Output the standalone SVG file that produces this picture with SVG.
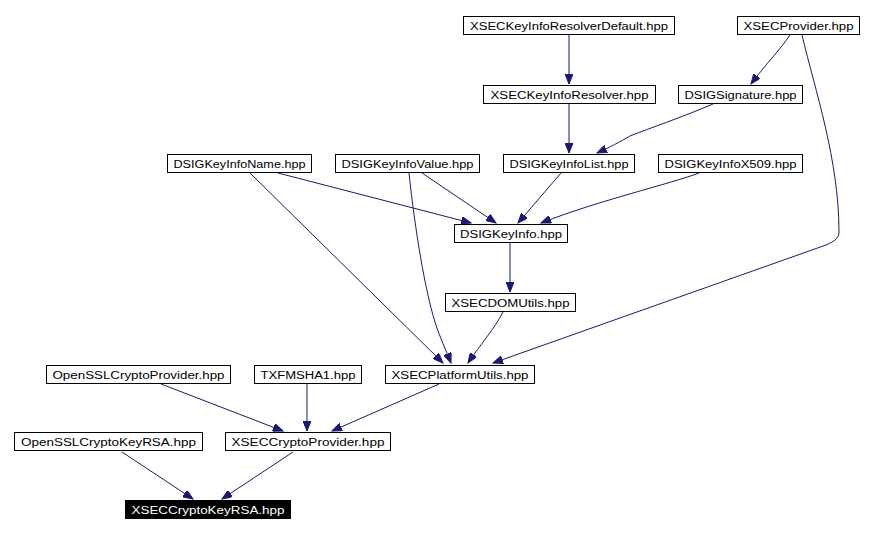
<svg xmlns="http://www.w3.org/2000/svg" width="876" height="534" viewBox="0 0 876 534">
<style>
.n rect{fill:#fff;stroke:#000;stroke-width:1}
.n text{font-family:"Liberation Sans",Arial,sans-serif;font-size:10px;fill:#000;text-anchor:middle}
.n.hl rect{fill:#000;stroke:#000}
.n.hl text{fill:#fff}
.e path{fill:none;stroke:#191970;stroke-width:1;marker-end:url(#ah)}
</style>
<defs>
<marker id="ah" markerUnits="userSpaceOnUse" markerWidth="11" markerHeight="8" refX="10" refY="4" orient="auto">
<path d="M0,0 L10,4 L0,8 z" fill="#191970" stroke="#191970" stroke-width="1"/>
</marker>
</defs>
<rect width="876" height="534" fill="#fff"/>
<g id="connectors" class="e">
<path d="M569,35 L569,84"/>
<path d="M790,35 C780,50 765,65 751,84"/>
<path d="M802,35 C815,90 839,160 839,232 C839,238 835,241 826,245 L493,363"/>
<path d="M569,104 L569,153"/>
<path d="M713,104 C680,118 650,128 630,136 C620,142 610,147 597,153"/>
<path d="M278,173 L471,223"/>
<path d="M250,173 L443,363"/>
<path d="M422,173 L496,223"/>
<path d="M409,173 C415,230 425,290 435,322 C440,338 446,350 451,363"/>
<path d="M561,173 L518,223"/>
<path d="M699,173 C670,184 600,200 541,223"/>
<path d="M510,243 L510,292"/>
<path d="M503,312 C495,328 480,345 468,363"/>
<path d="M161,384 L283,431"/>
<path d="M307,384 L307,431"/>
<path d="M439,384 L332,431"/>
<path d="M122,452 L193,499"/>
<path d="M293,452 L222,499"/>
</g>
<g id="n1" class="n"><rect x="463.5" y="16.5" width="211" height="18"/><text x="569" y="30" textLength="198" lengthAdjust="spacingAndGlyphs">XSECKeyInfoResolverDefault.hpp</text></g>
<g id="n2" class="n"><rect x="737.5" y="16.5" width="122" height="18"/><text x="798.5" y="30" textLength="110" lengthAdjust="spacingAndGlyphs">XSECProvider.hpp</text></g>
<g id="n3" class="n"><rect x="483.5" y="85.5" width="172" height="18"/><text x="569.5" y="99" textLength="158" lengthAdjust="spacingAndGlyphs">XSECKeyInfoResolver.hpp</text></g>
<g id="n4" class="n"><rect x="678.5" y="85.5" width="124" height="18"/><text x="740.5" y="99" textLength="112" lengthAdjust="spacingAndGlyphs">DSIGSignature.hpp</text></g>
<g id="n5" class="n"><rect x="167.5" y="154.5" width="144" height="18"/><text x="239.5" y="168" textLength="132" lengthAdjust="spacingAndGlyphs">DSIGKeyInfoName.hpp</text></g>
<g id="n6" class="n"><rect x="335.5" y="154.5" width="144" height="18"/><text x="407.5" y="168" textLength="132" lengthAdjust="spacingAndGlyphs">DSIGKeyInfoValue.hpp</text></g>
<g id="n7" class="n"><rect x="503.5" y="154.5" width="131" height="18"/><text x="569" y="168" textLength="119" lengthAdjust="spacingAndGlyphs">DSIGKeyInfoList.hpp</text></g>
<g id="n8" class="n"><rect x="658.5" y="154.5" width="144" height="18"/><text x="730.5" y="168" textLength="132" lengthAdjust="spacingAndGlyphs">DSIGKeyInfoX509.hpp</text></g>
<g id="n9" class="n"><rect x="454.5" y="224.5" width="113" height="18"/><text x="511" y="238" textLength="102" lengthAdjust="spacingAndGlyphs">DSIGKeyInfo.hpp</text></g>
<g id="n10" class="n"><rect x="445.5" y="293.5" width="130" height="18"/><text x="510.5" y="307" textLength="118" lengthAdjust="spacingAndGlyphs">XSECDOMUtils.hpp</text></g>
<g id="n11" class="n"><rect x="46.5" y="365.5" width="184" height="18"/><text x="138.5" y="379" textLength="172" lengthAdjust="spacingAndGlyphs">OpenSSLCryptoProvider.hpp</text></g>
<g id="n12" class="n"><rect x="254.5" y="365.5" width="107" height="18"/><text x="308" y="379" textLength="95" lengthAdjust="spacingAndGlyphs">TXFMSHA1.hpp</text></g>
<g id="n13" class="n"><rect x="385.5" y="365.5" width="149" height="18"/><text x="460" y="379" textLength="137" lengthAdjust="spacingAndGlyphs">XSECPlatformUtils.hpp</text></g>
<g id="n14" class="n"><rect x="14.5" y="432.5" width="188" height="18"/><text x="108.5" y="446" textLength="175" lengthAdjust="spacingAndGlyphs">OpenSSLCryptoKeyRSA.hpp</text></g>
<g id="n15" class="n"><rect x="225.5" y="432.5" width="165" height="18"/><text x="308" y="446" textLength="153" lengthAdjust="spacingAndGlyphs">XSECCryptoProvider.hpp</text></g>
<g id="n16" class="n hl"><rect x="125.5" y="500.5" width="165" height="18"/><text x="208" y="514" textLength="153" lengthAdjust="spacingAndGlyphs">XSECCryptoKeyRSA.hpp</text></g>
</svg>
